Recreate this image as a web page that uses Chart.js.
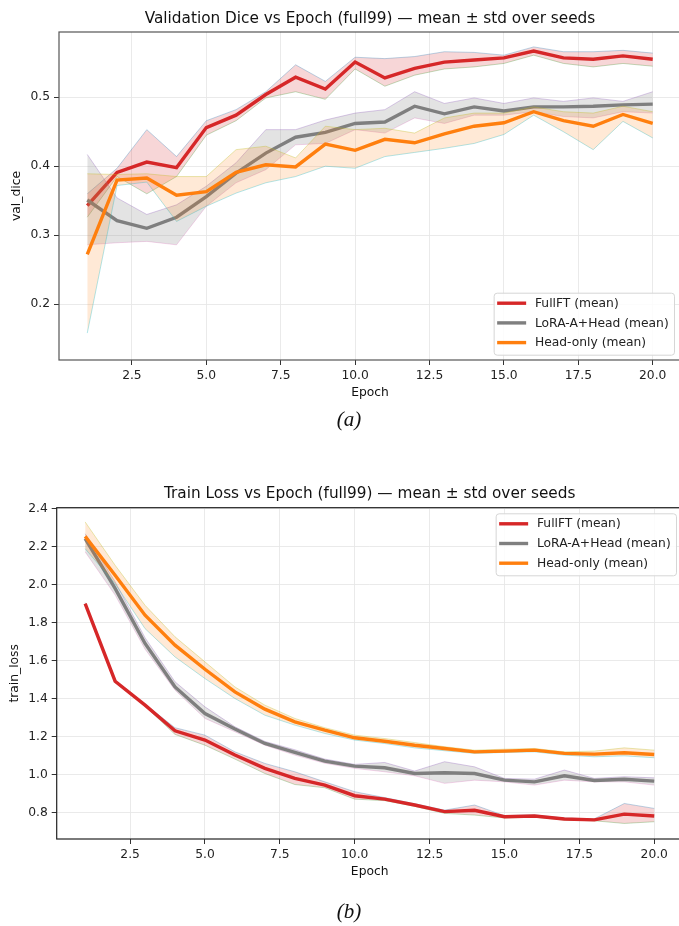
<!DOCTYPE html>
<html><head><meta charset="utf-8">
<script src="https://cdn.jsdelivr.net/npm/chart.js@4.4.1/dist/chart.umd.min.js"></script>
<style>
html,body{margin:0;padding:0;background:#fff;width:679px;height:926px;overflow:hidden;position:relative;}
#c1{position:absolute;left:0;top:0;}
#c2{position:absolute;left:0;top:440px;}
</style></head><body>
<canvas id="c1" width="684" height="440"></canvas>
<canvas id="c2" width="686" height="486"></canvas>
<script>
// ---------- data ----------
const epochs = [1,2,3,4,5,6,7,8,9,10,11,12,13,14,15,16,17,18,19,20];
const xTicks = [2.5,5,7.5,10,12.5,15,17.5,20];
const diceYTicks = [0.2,0.3,0.4,0.5];
const lossYTicks = [0.8,1.0,1.2,1.4,1.6,1.8,2.0,2.2,2.4];
const seriesNames = ["FullFT (mean)","LoRA-A+Head (mean)","Head-only (mean)"];

// Validation Dice
const diceFullMean = [0.343,0.391,0.406,0.398,0.456,0.474,0.504,0.529,0.512,0.551,0.528,0.542,0.551,0.554,0.557,0.567,0.557,0.555,0.560,0.555];
const diceFullUp   = [0.360,0.397,0.453,0.414,0.466,0.482,0.508,0.547,0.523,0.558,0.556,0.559,0.566,0.565,0.561,0.573,0.566,0.566,0.568,0.564];
const diceFullLo   = [0.326,0.385,0.360,0.385,0.445,0.466,0.499,0.508,0.497,0.541,0.516,0.532,0.541,0.544,0.549,0.561,0.549,0.544,0.549,0.545];
const diceLoraMean = [0.351,0.321,0.310,0.326,0.356,0.390,0.419,0.442,0.449,0.462,0.464,0.487,0.476,0.486,0.480,0.486,0.486,0.487,0.489,0.490];
const diceLoraUp   = [0.417,0.354,0.330,0.344,0.371,0.405,0.453,0.453,0.467,0.477,0.482,0.508,0.491,0.499,0.491,0.499,0.494,0.499,0.494,0.508];
const diceLoraLo   = [0.286,0.289,0.291,0.286,0.342,0.376,0.395,0.431,0.433,0.453,0.448,0.470,0.462,0.474,0.474,0.479,0.472,0.470,0.479,0.477];
const diceHeadMean = [0.272,0.380,0.383,0.358,0.363,0.391,0.402,0.399,0.432,0.423,0.439,0.434,0.447,0.458,0.463,0.479,0.466,0.458,0.475,0.462];
const diceHeadUp   = [0.389,0.388,0.389,0.385,0.385,0.424,0.429,0.412,0.458,0.453,0.455,0.448,0.470,0.477,0.477,0.486,0.479,0.477,0.487,0.479];
const diceHeadLo   = [0.158,0.372,0.377,0.320,0.342,0.361,0.376,0.385,0.400,0.397,0.414,0.420,0.426,0.433,0.446,0.474,0.450,0.424,0.465,0.441];

// Train Loss
const lossFullMean = [1.900,1.491,1.365,1.230,1.181,1.102,1.032,0.979,0.944,0.888,0.870,0.839,0.804,0.811,0.777,0.781,0.765,0.761,0.791,0.781];
const lossFullUp   = [1.905,1.497,1.370,1.246,1.207,1.119,1.058,1.014,0.961,0.909,0.878,0.846,0.812,0.839,0.783,0.787,0.770,0.766,0.847,0.821];
const lossFullLo   = [1.895,1.485,1.360,1.211,1.154,1.081,1.005,0.947,0.930,0.870,0.862,0.832,0.795,0.786,0.771,0.775,0.760,0.756,0.742,0.751];
const lossLoraMean = [2.242,1.980,1.690,1.461,1.321,1.239,1.163,1.116,1.070,1.044,1.035,1.005,1.009,1.005,0.970,0.961,0.993,0.968,0.975,0.965];
const lossLoraUp   = [2.268,2.015,1.720,1.488,1.356,1.251,1.174,1.130,1.081,1.053,1.063,1.018,1.067,1.040,0.979,0.975,1.023,0.979,0.988,0.982];
const lossLoraLo   = [2.172,1.945,1.660,1.444,1.295,1.225,1.154,1.102,1.059,1.032,1.014,0.993,0.953,0.970,0.961,0.944,0.970,0.961,0.961,0.944];
const lossHeadMean = [2.254,2.049,1.839,1.681,1.554,1.435,1.344,1.277,1.233,1.193,1.175,1.154,1.137,1.119,1.123,1.128,1.111,1.107,1.114,1.105];
const lossHeadUp   = [2.330,2.102,1.891,1.725,1.593,1.461,1.365,1.295,1.246,1.207,1.189,1.168,1.146,1.128,1.133,1.137,1.119,1.123,1.140,1.128];
const lossHeadLo   = [2.189,2.005,1.768,1.619,1.505,1.400,1.312,1.260,1.216,1.181,1.163,1.140,1.125,1.111,1.116,1.119,1.102,1.093,1.098,1.088];

// ---------- styles ----------
const COLORS = {
  full: {line:'#d62728', fill:'rgba(214,39,40,0.19)', up:'rgba(31,119,180,0.30)', lo:'rgba(44,160,44,0.30)'},
  lora: {line:'#7f7f7f', fill:'rgba(127,127,127,0.22)', up:'rgba(148,103,189,0.35)', lo:'rgba(227,119,194,0.30)'},
  head: {line:'#ff7f0e', fill:'rgba(255,127,14,0.17)', up:'rgba(188,189,34,0.35)', lo:'rgba(23,190,207,0.35)'}
};
Chart.defaults.font.family = "'DejaVu Sans', sans-serif";
Chart.defaults.color = '#222';

const pts = arr => epochs.map((e,i)=>({x:e, y:arr[i]}));

function group(mean, up, lo, c, ord){
  return [
    {data:pts(up), borderColor:c.up, borderWidth:1, backgroundColor:c.fill, fill:'+1', pointRadius:0, order:ord+1},
    {data:pts(lo), borderColor:c.lo, borderWidth:1, fill:false, pointRadius:0, order:ord+1},
    {data:pts(mean), borderColor:c.line, borderWidth:3.4, fill:false, pointRadius:0, order:ord, borderJoinStyle:'miter', borderCapStyle:'butt'}
  ];
}

function decor(cfg){
  return {
    id:'decor',
    afterDraw(chart){
      const ctx = chart.ctx, a = chart.chartArea;
      ctx.save();
      // frame
      ctx.strokeStyle = cfg.frame; ctx.lineWidth = 1.2;
      ctx.strokeRect(a.left, a.top, a.right - a.left, a.bottom - a.top);
      // title
      ctx.fillStyle = '#111';
      ctx.textAlign = 'center'; ctx.textBaseline = 'middle';
      ctx.font = "15.3px 'DejaVu Sans'";
      ctx.fillText(cfg.title, (a.left + a.right)/2, cfg.titleY);
      // axis labels
      ctx.font = "12.3px 'DejaVu Sans'";
      ctx.fillText('Epoch', (a.left + a.right)/2, cfg.xLabelY);
      ctx.save();
      ctx.translate(cfg.yLabelX, (a.top + a.bottom)/2);
      ctx.rotate(-Math.PI/2);
      ctx.fillText(cfg.yLabel, 0, 0);
      ctx.restore();
      // caption
      ctx.font = "italic 21px 'Liberation Serif', serif";
      ctx.fillText(cfg.caption, 349, cfg.captionY);
      // legend
      ctx.font = "12.3px 'DejaVu Sans'";
      let tw = 0;
      seriesNames.forEach(n => { tw = Math.max(tw, ctx.measureText(n).width); });
      const w = 41.3 + tw + 5.3, h = 62;
      const right = a.right - cfg.legRightGap;
      const left = right - w;
      const top = cfg.legTop;
      ctx.beginPath();
      if (ctx.roundRect) ctx.roundRect(left+0.5, top+0.5, w, h, 3); else ctx.rect(left+0.5, top+0.5, w, h);
      ctx.fillStyle = 'rgba(255,255,255,0.85)'; ctx.fill();
      ctx.strokeStyle = '#d6d6d6'; ctx.lineWidth = 1; ctx.stroke();
      const cols = [COLORS.full.line, COLORS.lora.line, COLORS.head.line];
      const offs = [10.5, 30.2, 49.9];
      ctx.textAlign = 'left';
      seriesNames.forEach((n,i) => {
        const y = top + offs[i];
        ctx.strokeStyle = cols[i]; ctx.lineWidth = 3.4;
        ctx.beginPath(); ctx.moveTo(left + 3.5, y); ctx.lineTo(left + 32.5, y); ctx.stroke();
        ctx.fillStyle = '#222';
        ctx.fillText(n, left + 41.3, y + 0.5);
      });
      ctx.restore();
    }
  };
}

function makeChart(id, sets, opt){
  return new Chart(document.getElementById(id), {
    type:'line',
    data:{datasets:sets},
    options:{
      responsive:false, animation:false, events:[],
      layout:{padding:{left:0, top:opt.padTop, right:opt.padRight, bottom:0}},
      plugins:{legend:{display:false}, tooltip:{enabled:false}, title:{display:false}},
      elements:{line:{tension:0}},
      scales:{
        x:{type:'linear', min:0.05, max:20.95,
           afterBuildTicks:s => { s.ticks = xTicks.map(v=>({value:v})); },
           afterFit:s => { s.height = opt.xH; },
           ticks:{callback:v=>Number(v).toFixed(1), font:{size:12.3}, color:'#222', padding:3, maxRotation:0, autoSkip:false},
           grid:{color:'#e8e8e8', lineWidth:0.9, tickColor:'#333', tickLength:5, tickWidth:1},
           border:{display:false}},
        y:{type:'linear', min:opt.yMin, max:opt.yMax,
           afterBuildTicks:s => { s.ticks = opt.yTicks.map(v=>({value:v})); },
           afterFit:s => { s.width = opt.yW; },
           ticks:{callback:v=>Number(v).toFixed(1), font:{size:12.3}, color:'#222', padding:4, autoSkip:false},
           grid:{color:'#e8e8e8', lineWidth:0.9, tickColor:'#333', tickLength:5, tickWidth:1},
           border:{display:false}}
      }
    },
    plugins:[decor(opt.decor)]
  });
}

const diceSets = [
  ...group(diceHeadMean, diceHeadUp, diceHeadLo, COLORS.head, 4),
  ...group(diceLoraMean, diceLoraUp, diceLoraLo, COLORS.lora, 6),
  ...group(diceFullMean, diceFullUp, diceFullLo, COLORS.full, 8)
];
const lossSets = [
  ...group(lossHeadMean, lossHeadUp, lossHeadLo, COLORS.head, 4),
  ...group(lossLoraMean, lossLoraUp, lossLoraLo, COLORS.lora, 6),
  ...group(lossFullMean, lossFullUp, lossFullLo, COLORS.full, 8)
];

makeChart('c1', diceSets, {
  padTop:32, padRight:3, xH:80, yW:59, yMin:0.119, yMax:0.5946, yTicks:diceYTicks,
  decor:{frame:'#555', title:'Validation Dice vs Epoch (full99) \u2014 mean \u00b1 std over seeds', titleY:19,
         xLabelY:393, yLabel:'val_dice', yLabelX:17, caption:'(a)', captionY:420, legRightGap:7, legTop:292.7}
});
makeChart('c2', lossSets, {
  padTop:67.7, padRight:3.3, xH:87, yW:56.7, yMin:0.66, yMax:2.405, yTicks:lossYTicks,
  decor:{frame:'#222', title:'Train Loss vs Epoch (full99) \u2014 mean \u00b1 std over seeds', titleY:54,
         xLabelY:432, yLabel:'train_loss', yLabelX:14.5, caption:'(b)', captionY:472, legRightGap:6.7, legTop:73.3}
});
</script>
</body></html>
